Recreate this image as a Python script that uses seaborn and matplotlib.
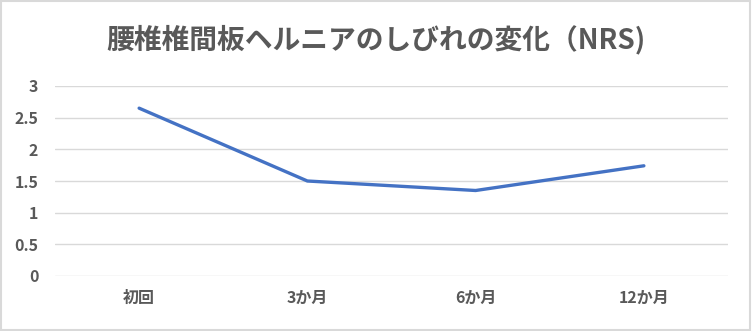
import matplotlib
matplotlib.use("Agg")
import matplotlib.pyplot as plt
import seaborn as sns
import pandas as pd

categories = ["初回", "3か月", "6か月", "12か月"]
values = [2.65, 1.50, 1.35, 1.74]
yticks = [0, 0.5, 1, 1.5, 2, 2.5, 3]
ytick_labels = ["0", "0.5", "1", "1.5", "2", "2.5", "3"]
title = "腰椎椎間板ヘルニアのしびれの変化（NRS)"

sns.set_theme(style="white")
plt.rcParams['font.family'] = ['Noto Sans CJK JP', 'DejaVu Sans']

df = pd.DataFrame({"時期": categories, "NRS": values})

fig = plt.figure(figsize=(7.52, 3.31), dpi=100)
ax = fig.add_axes([55/752, 1 - 276/331, (728 - 55)/752, (276 - 86)/331])

sns.lineplot(data=df, x="時期", y="NRS", sort=False, ax=ax,
             color="#4472C4", linewidth=2.4, solid_capstyle="round")

ax.set_xlim(-0.5, 3.5)
ax.set_ylim(0, 3)
ax.set_yticks(yticks)
ax.set_yticklabels(ytick_labels)
ax.grid(axis="y", color="#d9d9d9", linewidth=1)
ax.set_axisbelow(True)
for s in ax.spines.values():
    s.set_visible(False)
ax.set_xlabel("")
ax.set_ylabel("")
ax.tick_params(axis="both", length=0, colors="#595959", labelsize=11.5)
ax.tick_params(axis="y", pad=12)
ax.tick_params(axis="x", pad=10)
for lab in ax.get_yticklabels():
    lab.set_fontweight("bold")
for lab in ax.get_xticklabels():
    lab.set_fontweight("bold")

fig.text(0.5, 1 - 40/331, title, ha="center", va="center",
         fontsize=20, fontweight="bold", color="#595959")

fig.patches.append(plt.Rectangle((0.001, 0.002), 0.997, 0.995, transform=fig.transFigure,
                                 fill=False, edgecolor="#d9d9d9", linewidth=1.5))

fig.savefig("out.png", dpi=100)
